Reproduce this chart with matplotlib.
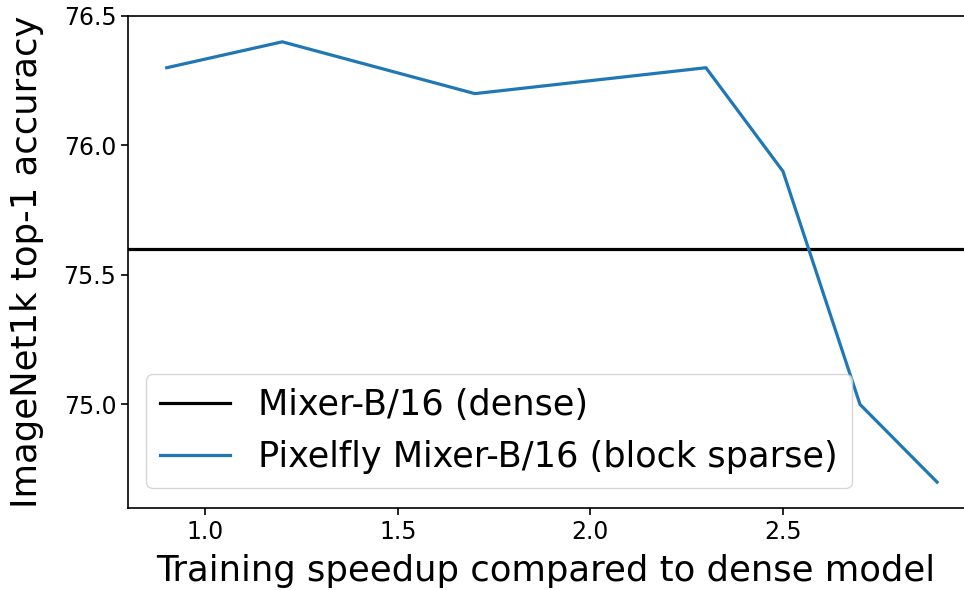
import matplotlib.pyplot as plt

# Data
speedup = [0.9, 1.2, 1.7, 2.3, 2.5, 2.7, 2.9]
accuracy = [76.3, 76.4, 76.2, 76.3, 75.9, 75.0, 74.7]
dense_acc = 75.6

fig, ax = plt.subplots(figsize=(9.64, 5.9), dpi=100)
fig.subplots_adjust(left=0.133, right=1.0, bottom=0.139, top=0.973)

ax.axhline(dense_acc, color='black', linewidth=2.3, label='Mixer-B/16 (dense)')
ax.plot(speedup, accuracy, color='#1f77b4', linewidth=2.3,
        label='Pixelfly Mixer-B/16 (block sparse)')

ax.set_xlim(0.8, 2.97)
ax.set_ylim(74.6, 76.5)
ax.set_xticks([1.0, 1.5, 2.0, 2.5])
ax.set_yticks([75.0, 75.5, 76.0, 76.5])
ax.tick_params(labelsize=17, length=5, width=1.2)
ax.spines['right'].set_visible(False)
for s in ['left', 'bottom', 'top']:
    ax.spines[s].set_linewidth(1.2)

ax.set_xlabel('Training speedup compared to dense model', fontsize=25.5, labelpad=7)
ax.set_ylabel('ImageNet1k top-1 accuracy', fontsize=25.5, labelpad=14)
ax.legend(loc='lower left', fontsize=25.3, bbox_to_anchor=(0.0, 0.005))

plt.savefig('out.png', dpi=100)
